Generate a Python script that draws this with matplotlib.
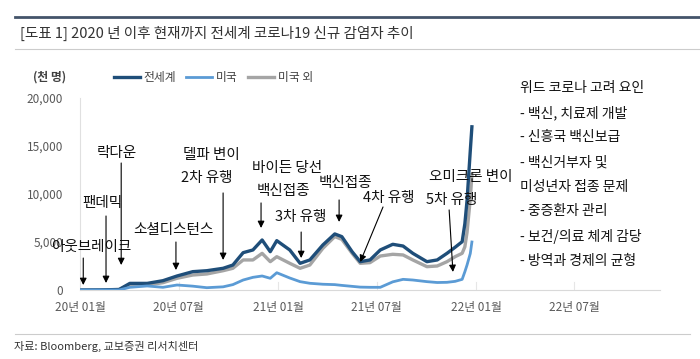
import pandas as pd
import matplotlib.pyplot as plt
from matplotlib.lines import Line2D

plt.rcParams['font.family'] = ['Noto Sans CJK KR', 'DejaVu Sans']

# weekly new cases, thousand people
dates = pd.to_datetime([
    '2020-01-01', '2020-02-07', '2020-03-13', '2020-04-02', '2020-05-04',
    '2020-06-02', '2020-06-28', '2020-07-27', '2020-08-22', '2020-09-21',
    '2020-10-09', '2020-10-28', '2020-11-15', '2020-12-02', '2020-12-17',
    '2020-12-29', '2021-01-22', '2021-02-10', '2021-02-28', '2021-03-24',
    '2021-04-15', '2021-04-28', '2021-05-17', '2021-06-01', '2021-06-19',
    '2021-07-08', '2021-07-31', '2021-08-19', '2021-09-06', '2021-10-02',
    '2021-10-21', '2021-11-08', '2021-11-23', '2021-12-06', '2021-12-11',
    '2021-12-15', '2021-12-21', '2021-12-24'])
world = [0, 10, 50, 690, 690, 970, 1460, 1910, 2010, 2260,
         2600, 3890, 4170, 5210, 3990, 5140, 4170, 2780, 3130, 4690,
         5840, 5560, 3990, 2950, 3130, 4170, 4760, 4580, 3820, 2950,
         3130, 3820, 4450, 5030, 6900, 9300, 14500, 17000]
us = [0, 0, 0, 280, 420, 280, 520, 400, 240, 330,
      560, 1040, 1320, 1460, 1220, 1800, 1250, 870, 700, 600,
      560, 480, 380, 300, 280, 280, 850, 1110, 1040, 870,
      780, 800, 900, 1110, 1900, 2600, 3800, 5000]
ex_us = [0, 10, 50, 520, 520, 760, 1220, 1560, 1670, 2010,
         2260, 3130, 3130, 3820, 2950, 3470, 2780, 2260, 2600, 4340,
         5560, 5280, 3820, 2780, 2850, 3540, 3720, 3650, 3130, 2430,
         2500, 2950, 3470, 3820, 4500, 6000, 9500, 12000]

tick_dates = pd.to_datetime(['2020-01-01', '2020-07-01', '2021-01-01',
                             '2021-07-01', '2022-01-01', '2022-07-01'])
tick_labels = ['20년 01월', '20년 07월', '21년 01월', '21년 07월', '22년 01월', '22년 07월']

# (text, text date, text value)
notes = [
    ('아웃브레이크', '2020-01-21', 4480),
    ('팬데믹', '2020-02-12', 9070),
    ('락다운', '2020-03-09', 14280),
    ('소셜디스턴스', '2020-06-21', 6250),
    ('델파 변이', '2020-08-30', 14070),
    ('2차 유행', '2020-08-22', 11670),
    ('바이든 당선', '2021-01-17', 12710),
    ('백신접종', '2021-01-10', 10320),
    ('3차 유행', '2021-02-12', 7610),
    ('백신접종', '2021-05-04', 11150),
    ('4차 유행', '2021-07-24', 9590),
    ('오미크론 변이', '2021-12-22', 11770),
    ('5차 유행', '2021-11-16', 9380),
]
# (start date, start value, end date, end value)
arrows = [
    ('2020-01-07', 3330, '2020-01-07', 520),
    ('2020-02-18', 7710, '2020-02-18', 730),
    ('2020-03-17', 13230, '2020-03-17', 2600),
    ('2020-06-26', 5000, '2020-06-26', 2080),
    ('2020-09-21', 10110, '2020-09-21', 3130),
    ('2020-11-30', 9070, '2020-11-30', 6460),
    ('2021-02-12', 6040, '2021-02-12', 3330),
    ('2021-04-23', 9380, '2021-04-23', 7090),
    ('2021-07-13', 8650, '2021-06-01', 2920),
    ('2021-11-12', 8340, '2021-11-19', 1880),
]

side_lines = ['위드 코로나 고려 요인', '- 백신, 치료제 개발', '- 신흥국 백신보급',
              '- 백신거부자 및', '미성년자 접종 문제', '- 중증환자 관리',
              '- 보건/의료 체계 감당', '- 방역과 경제의 균형']

fig = plt.figure(figsize=(7, 3.59), dpi=100)
ax = fig.add_axes([80 / 700, 1 - 290 / 359, 580 / 700, 192 / 359])

c_world = '#1f4e79'
c_us = '#5b9bd5'
c_ex = '#a5a5a5'
ax.plot(dates, ex_us, color=c_ex, lw=2.4, zorder=2)
ax.plot(dates, world, color=c_world, lw=2.4, zorder=3)
ax.plot(dates, us, color=c_us, lw=2.0, zorder=4)

ax.set_ylim(0, 20000)
ax.set_xlim(pd.Timestamp('2020-01-01'), pd.Timestamp('2022-12-06'))
ax.set_yticks([0, 5000, 10000, 15000, 20000])
ax.set_yticklabels(['0', '5,000', '10,000', '15,000', '20,000'])
ax.set_xticks(tick_dates)
ax.set_xticklabels(tick_labels)
ax.tick_params(axis='both', length=0, colors='#595959', labelsize=8.5)
ax.tick_params(axis='y', pad=12)
ax.tick_params(axis='x', pad=8)
for s in ['top', 'right']:
    ax.spines[s].set_visible(False)
ax.spines['left'].set_color('#e0e0e0')
ax.spines['bottom'].set_color('#d9d9d9')
ax.spines['left'].set_linewidth(0.8)
for d in tick_dates[1:]:
    ax.axvline(d, ymin=0, ymax=0.04, color='#e6e6e6', lw=0.8, zorder=1)

for txt, d, v in notes:
    ax.text(pd.Timestamp(d), v, txt, ha='center', va='center', fontsize=10.5,
            color='#111111', zorder=5, clip_on=False)
for d0, v0, d1, v1 in arrows:
    ax.annotate('', xy=(pd.Timestamp(d1), v1), xytext=(pd.Timestamp(d0), v0),
                arrowprops=dict(arrowstyle='-|>', color='black', lw=0.8,
                                mutation_scale=10, shrinkA=0, shrinkB=0),
                zorder=5)

handles = [Line2D([], [], color=c_world, lw=2.4),
           Line2D([], [], color=c_us, lw=2.0),
           Line2D([], [], color=c_ex, lw=2.4)]
fig.legend(handles, ['전세계', '미국', '미국 외'], ncol=3, frameon=False,
           loc='center left', bbox_to_anchor=(103 / 700, 1 - 78 / 359),
           fontsize=8.5, handlelength=2.2, handletextpad=0.3,
           columnspacing=0.9, labelcolor='#404040')
fig.text(33 / 700, 1 - 77 / 359, '(천 명)', fontsize=8.5, color='#404040',
         va='center', fontweight='bold')

for i, line in enumerate(side_lines):
    fig.text(520 / 700, 1 - (88 + i * 24.7) / 359, line, fontsize=10,
             color='#111111', va='center')

# header and footer
fig.add_artist(Line2D([15 / 700, 1], [1 - 17 / 359] * 2, color='#44546a', lw=2))
fig.add_artist(Line2D([15 / 700, 1], [1 - 49 / 359] * 2, color='#cccccc', lw=0.8))
fig.text(20 / 700, 1 - 33 / 359, '[도표 1] 2020 년 이후 현재까지 전세계 코로나19 신규 감염자 추이',
         fontsize=10.5, color='#333333', va='center')
fig.add_artist(Line2D([15 / 700, 690 / 700], [1 - 334 / 359] * 2, color='#cccccc', lw=0.8))
fig.text(14 / 700, 1 - 346 / 359, '자료: Bloomberg, 교보증권 리서치센터',
         fontsize=8, color='#333333', va='center')

fig.savefig('out.png', dpi=100)
